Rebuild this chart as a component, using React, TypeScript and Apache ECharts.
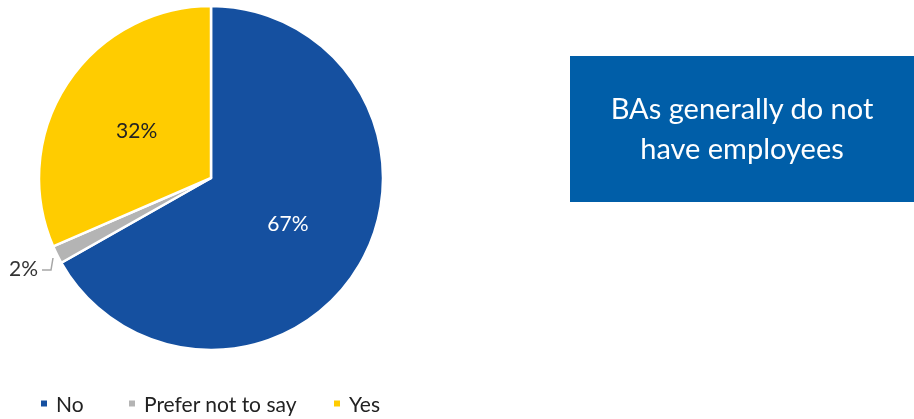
import React, { useEffect, useRef } from "react";
import * as echarts from "echarts";

const categories = ["No", "Prefer not to say", "Yes"];
const values = [66.8, 1.7, 31.5];
const colors = ["#1550a0", "#b4b4b4", "#ffcc00"];
const labelColors = ["#ffffff", "#333333", "#222222"];
const boxText = "BAs generally do not\nhave employees";
const legendLefts = [34, 122, 327];

const FONT = "Lato, 'Noto Sans', sans-serif";

export default function App() {
  const ref = useRef<HTMLDivElement>(null);
  useEffect(() => {
    if (!ref.current) return;
    const chart = echarts.init(ref.current, undefined, { renderer: "svg" });
    const data = categories.map((name, i) => ({
      name,
      value: values[i],
      itemStyle: { color: colors[i] },
      label:
        i === 1
          ? { position: "outside", color: labelColors[i] }
          : { position: "inside", color: labelColors[i] },
      labelLine:
        i === 1
          ? { show: true, length: 6, length2: 6, lineStyle: { color: "#a6a6a6", width: 1.5 } }
          : { show: false },
    }));
    chart.setOption({
      animation: false,
      textStyle: { fontFamily: FONT },
      legend: legendLefts.map((left, i) => ({
        data: [categories[i]],
        left,
        top: 388,
        icon: "rect",
        itemWidth: 8,
        itemHeight: 8,
        itemGap: 6,
        textStyle: { fontSize: 21, color: "#222", fontFamily: FONT, padding: [0, 0, 0, 3] },
      })),
      series: [
        {
          type: "pie",
          center: [211, 178],
          radius: [0, 172],
          startAngle: 90,
          clockwise: true,
          avoidLabelOverlap: false,
          itemStyle: { borderColor: "#ffffff", borderWidth: 2.5 },
          label: {
            show: true,
            fontSize: 21,
            fontFamily: FONT,
            formatter: (p: any) => `${Math.round(p.value)}%`,
          },
          labelLayout: (p: any) =>
            p.dataIndex === 1
              ? {
                  x: 38,
                  y: 267,
                  align: "right",
                  verticalAlign: "middle",
                  labelLinePoints: [
                    [53, 258],
                    [51, 270],
                    [42, 270],
                  ],
                }
              : {},
          emphasis: { disabled: true },
          data,
        },
      ],
      graphic: [
        {
          type: "rect",
          shape: { x: 570, y: 56, width: 344, height: 146 },
          style: { fill: "#005ea8" },
        },
        {
          type: "text",
          x: 742,
          y: 127,
          style: {
            text: boxText,
            fill: "#ffffff",
            fontSize: 29,
            lineHeight: 40,
            fontFamily: FONT,
            align: "center",
            verticalAlign: "middle",
          },
        },
      ],
    });
    return () => chart.dispose();
  }, []);
  return (
    <div
      ref={ref}
      style={{ position: "fixed", left: 0, top: 0, width: 914, height: 419 }}
    />
  );
}
